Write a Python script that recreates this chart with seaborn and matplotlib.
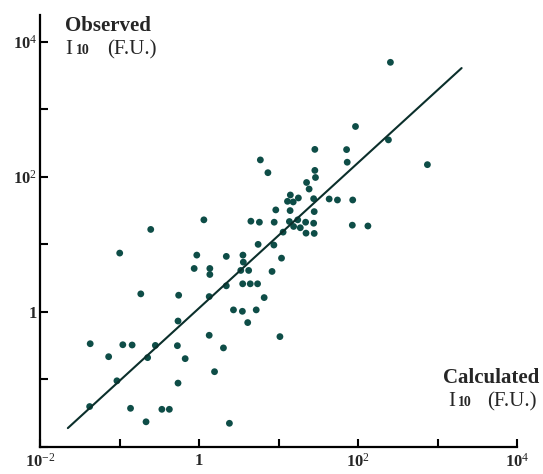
import numpy as np
import pandas as pd
import matplotlib
matplotlib.use("Agg")
import matplotlib.pyplot as plt
import seaborn as sns

# log10 of calculated / observed I10 (F.U.)
calc_exp = [-0.608, 0.060, -0.998, -0.029, -0.062, 0.135, 0.135, -0.733, -0.257, 0.127,
            -0.265, 0.127, -1.369, -0.959, -0.842, -0.550, -0.273, -1.137, -0.647, -0.175,
            0.194, -1.033, -0.265, -1.376, -0.862, -0.468, -0.374, -0.667, 0.381, 0.818,
            0.432, 0.544, 0.718, 0.611, 1.016, 0.306, 1.455, 1.854, 0.770, 1.862,
            0.865, 1.455, 1.463, 1.351, 1.383, 1.147, 1.111, 1.183, 1.248, 1.440,
            1.635, 1.739, 1.931, 0.964, 1.144, 1.447, 0.651, 0.758, 0.944, 1.135,
            1.240, 1.339, 1.440, 1.188, 1.272, 1.926, 2.122, 1.056, 1.344, 1.447,
            0.742, 0.940, 0.342, 0.551, 0.556, 1.036, 0.524, 0.623, 0.917, 0.342,
            0.548, 0.643, 0.735, 2.405, 1.966, 2.380, 2.870]
obs_exp = [1.221, 1.363, 0.871, 0.841, 0.643, 0.643, 0.554, 0.267, 0.247, 0.227,
           -0.135, -0.346, -0.471, -0.486, -0.490, -0.496, -0.500, -0.663, -0.677, -0.692,
           -0.885, -1.020, -1.054, -1.401, -1.427, -1.442, -1.442, -1.627, -1.649, 0.212,
           0.030, 0.009, 0.030, -0.158, -0.366, -0.533, 2.406, 2.403, 2.250, 2.216,
           2.061, 2.095, 1.990, 1.916, 1.819, 1.731, 1.637, 1.628, 1.687, 1.676,
           1.672, 1.657, 1.657, 1.510, 1.500, 1.485, 1.343, 1.328, 1.328, 1.338,
           1.363, 1.328, 1.313, 1.265, 1.246, 1.284, 1.272, 1.181, 1.166, 1.162,
           1.000, 0.990, 0.822, 0.841, 0.737, 0.796, 0.614, 0.614, 0.599, 0.386,
           0.416, 0.416, 0.416, 3.695, 2.745, 2.547, 2.180]

# fitted line end points (log10)
fit_calc_exp = [-1.65, 3.30]
fit_obs_exp = [-1.72, 3.61]

tick_exp = [-2, -1, 0, 1, 2, 3, 4]
x_tick_labels = [r"$\mathbf{10}^{-2}$", "", r"$\mathbf{1}$", "", r"$\mathbf{10}^{2}$", "", r"$\mathbf{10}^{4}$"]
y_tick_labels = ["", "", r"$\mathbf{1}$", "", r"$\mathbf{10}^{2}$", "", r"$\mathbf{10}^{4}$"]

df = pd.DataFrame({"calc": 10.0 ** np.array(calc_exp), "obs": 10.0 ** np.array(obs_exp)})
fit = pd.DataFrame({"calc": 10.0 ** np.array(fit_calc_exp), "obs": 10.0 ** np.array(fit_obs_exp)})

sns.set_style("ticks")
plt.rcParams["font.family"] = ["Liberation Serif", "DejaVu Serif"]
plt.rcParams["mathtext.fontset"] = "custom"
plt.rcParams["mathtext.rm"] = "Liberation Serif"
plt.rcParams["mathtext.bf"] = "Liberation Serif:bold"
plt.rcParams["mathtext.it"] = "Liberation Serif:italic"

W, H = 543, 474
fig = plt.figure(figsize=(W / 100, H / 100), dpi=100)
ax = fig.add_axes([40 / W, 1 - 447 / H, (517.3 - 40) / W, (447 - 14.7) / H])

sns.lineplot(data=fit, x="calc", y="obs", ax=ax, color="#0b2f2b", linewidth=1.5)
sns.scatterplot(data=df, x="calc", y="obs", ax=ax, color="#0e4d47", s=24,
                edgecolor="none", marker="o")

ax.set_xscale("log")
ax.set_yscale("log")
ax.set_xlim(1e-2, 1e4)
ax.set_ylim(1e-2, 10 ** 4.4)
ax.set_xticks([10.0 ** e for e in tick_exp])
ax.set_xticklabels(x_tick_labels)
ax.set_yticks([10.0 ** e for e in tick_exp])
ax.set_yticklabels(y_tick_labels)
ax.minorticks_off()
ax.tick_params(direction="in", length=6, width=1.5, labelsize=12, color="black")
ax.tick_params(axis="x", pad=4)
ax.tick_params(axis="y", pad=2)
ax.set_xlabel("")
ax.set_ylabel("")
for side in ["top", "right"]:
    ax.spines[side].set_visible(False)
for side in ["left", "bottom"]:
    ax.spines[side].set_linewidth(1.6)
    ax.spines[side].set_color("black")


def px(x, y):
    return x / W, 1 - y / H


def intensity_label(x_i, x_10, x_fu, y):
    fig.text(*px(x_i, y), "I", fontsize=15, ha="left", va="baseline")
    fig.text(*px(x_10, y), "10", fontsize=10, fontweight="bold", ha="left", va="baseline")
    fig.text(*px(x_fu, y), "(F.U.)", fontsize=15, ha="left", va="baseline")


fig.text(*px(65, 31), "Observed", fontsize=15, fontweight="bold", ha="left", va="baseline")
intensity_label(65, 76, 107, 54)

fig.text(*px(539, 383), "Calculated", fontsize=15, fontweight="bold", ha="right", va="baseline")
intensity_label(448, 458, 487, 406)

fig.savefig("out.png", dpi=100)
